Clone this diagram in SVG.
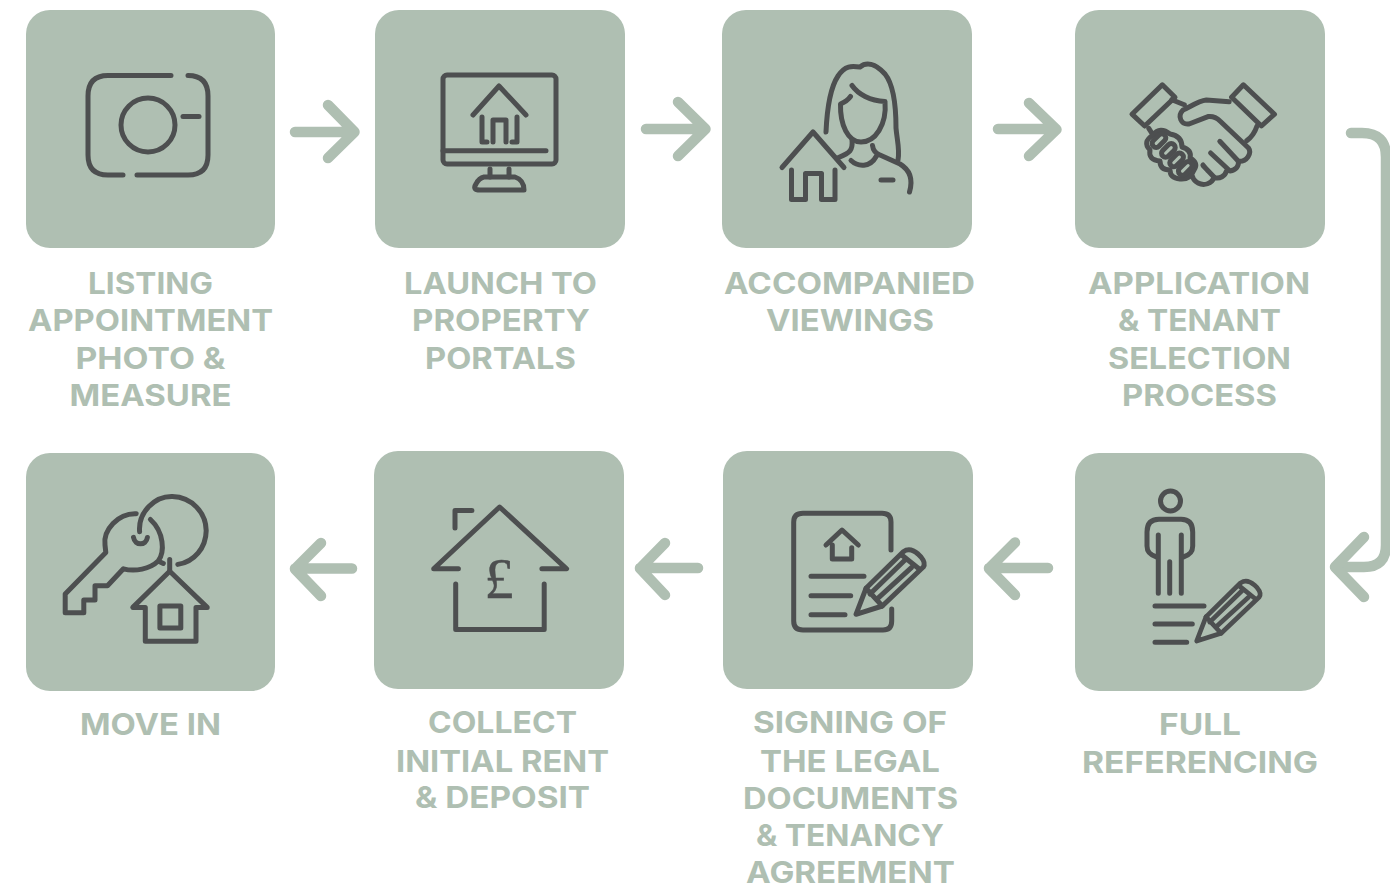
<svg xmlns="http://www.w3.org/2000/svg" xmlns:xlink="http://www.w3.org/1999/xlink" width="1390" height="888" viewBox="0 0 1390 888">
<style>
.box{fill:#afbfb2}
.ic{fill:none;stroke:#4d4f50;stroke-width:5;stroke-linecap:round;stroke-linejoin:round}
.arr{fill:none;stroke:#afbfb2;stroke-width:10.5;stroke-linecap:round;stroke-linejoin:round}
text{font-family:"Inter","Liberation Sans",sans-serif;font-weight:700;font-size:30px;fill:#afbfb2;text-anchor:middle}
.pound{font-family:"Liberation Serif",serif;font-weight:400;font-size:58px;fill:#4d4f50;stroke:#4d4f50;stroke-width:.5}
</style>
<defs>
<g id="pencil">
<path d="M856 614.3L866 588.3L903.3 551.7Q910 547 918 554L921 557Q926 563 923.3 567L882.3 606Z"/>
<path d="M866 588.3L882.3 606M901.7 555L918.3 568.3M870 594L905 560M876.7 599.3L911.7 567.3"/>
</g>
</defs>
<rect width="1390" height="888" fill="#fff"/>
<g id="connectors" class="arr">
<path d="M295 132H354M328 105L354.500 132L328 158"/>
<path d="M646 129H705M678 102L705.500 129L678 156"/>
<path d="M998 129H1056M1029 103L1056.500 129.500L1029 156"/>
<path d="M1351 133H1362Q1386 133 1386 157V545Q1386 567 1364 567H1336"/>
<path d="M1364 537L1335 567L1364 597"/>
<path d="M1048 568H989M1015 542.500L989 568.500L1015 595"/>
<path d="M698 568H640M665 543L640 568.500L665 595"/>
<path d="M352 568.500H295M321 543L295 569L321 596"/>
</g>
<g id="node-listing">
<rect class="box" x="26" y="10" width="249" height="238" rx="24"/>
<g class="ic">
<path d="M171 75.500H108Q88 75.500 88 96V155Q88 175 108 175H123M137 175H188Q208 175 208 155V96Q208 75.500 188 75.500"/>
<circle cx="148" cy="125" r="27"/>
<path d="M183 116.500H199"/>
</g>
<text x="150.500" y="294" textLength="125" lengthAdjust="spacingAndGlyphs">LISTING</text>
<text x="150.500" y="331" textLength="245" lengthAdjust="spacingAndGlyphs">APPOINTMENT</text>
<text x="150.500" y="369" textLength="150" lengthAdjust="spacingAndGlyphs">PHOTO &amp;</text>
<text x="150.500" y="406" textLength="162" lengthAdjust="spacingAndGlyphs">MEASURE</text>
</g>
<g id="node-portals">
<rect class="box" x="375" y="10" width="250" height="238" rx="24"/>
<g class="ic">
<rect x="443" y="75" width="113" height="89" rx="4"/>
<path d="M443 150.700H546M473 115L499 86L526 115M487 142H482V117M512 142H517V117M493 142V120H506V142M490 169V177M509 169V177"/>
<path d="M484 177H515Q524 180 524 190H480Q472 190 476 184Q479 178 484 177Z"/>
</g>
<text x="500.500" y="294" textLength="193" lengthAdjust="spacingAndGlyphs">LAUNCH TO</text>
<text x="501" y="331" textLength="178" lengthAdjust="spacingAndGlyphs">PROPERTY</text>
<text x="500.500" y="369" textLength="151" lengthAdjust="spacingAndGlyphs">PORTALS</text>
</g>
<g id="node-viewings">
<rect class="box" x="722" y="10" width="250" height="238" rx="24"/>
<g class="ic">
<path d="M826 132C827 110 830 88 838 76C845 65 852 66 860 67C866 62 875 63 885 74C893 84 896 105 896 128C897 140 900 150 898 160"/>
<path d="M852 85.500C858 94 870 101 885 101.500C887 125 875 142 861 142C848 142 840 125 840.500 104C845 102 848 100 850.500 96.500"/>
<path d="M852 140C853 150 850 153 838.500 157.500"/>
<path d="M851 160.500C858 167 870 168 876.500 156M872.500 145.500C873 150 875 153 880 155L900 164C910 170 913 180 909.500 192M881 180H893"/>
<path d="M782 167.500L813 132L844 167.500M791.500 170V199.500H805.500V173.500H821.500V199.500H835V170"/>
</g>
<text x="849.500" y="294" textLength="251" lengthAdjust="spacingAndGlyphs">ACCOMPANIED</text>
<text x="850" y="331" textLength="168" lengthAdjust="spacingAndGlyphs">VIEWINGS</text>
</g>
<g id="node-application">
<rect class="box" x="1075" y="10" width="250" height="238" rx="24"/>
<g class="ic">
<path d="M1162.300 84.800L1175 97.300L1144.700 126L1132 114.200Z"/>
<path d="M1243.400 84.800L1274.500 114.200L1261.400 126L1231.600 97.300Z"/>
<path d="M1171.800 99.700L1184.300 104.800M1229.200 101.700L1206.300 100C1198 101 1190 107 1183 110C1177 116 1181 125 1189 124L1208 116.600C1213 116 1217 118 1220 121L1248.500 148C1252 153 1247 162 1238.400 161.300L1219.800 141.300"/>
<path d="M1257 126C1255 132 1252 137 1246.800 140.600"/>
<path d="M1210.600 153L1230 171C1236 170 1239 166 1238.400 161.300M1203 165.600L1214.700 177.800C1220 179 1225 176 1226.500 171M1214 177C1212 184 1204 186 1198 183C1195 181 1193 179 1192.700 176.800M1203 165L1208 171"/>
<path d="M1148.800 128.400L1153 135"/>
<path d="M1153 135Q1160 126 1170 134Q1182 136 1182 147Q1192 150 1190 158Q1199 163 1194 170Q1190 180 1180 179Q1170 178 1170 170Q1160 170 1160 161Q1148 160 1150 150Q1142 142 1153 135Z"/>
<rect x="1151" y="136.600" width="16" height="8" rx="4" transform="rotate(-45 1159 140.600)"/>
<rect x="1160.400" y="146.400" width="16" height="8" rx="4" transform="rotate(-45 1168.400 150.400)"/>
<rect x="1168.600" y="155.900" width="16" height="8" rx="4" transform="rotate(-45 1176.600 159.900)"/>
<rect x="1177.300" y="164.300" width="16" height="8" rx="4" transform="rotate(-45 1185.300 168.300)"/>
</g>
<text x="1199" y="294" textLength="222" lengthAdjust="spacingAndGlyphs">APPLICATION</text>
<text x="1199.500" y="331" textLength="163" lengthAdjust="spacingAndGlyphs">&amp; TENANT</text>
<text x="1199.500" y="369" textLength="183" lengthAdjust="spacingAndGlyphs">SELECTION</text>
<text x="1199.500" y="406" textLength="155" lengthAdjust="spacingAndGlyphs">PROCESS</text>
</g>
<g id="node-referencing">
<rect class="box" x="1075" y="453" width="250" height="238" rx="24"/>
<g class="ic">
<circle cx="1170.500" cy="501" r="10"/>
<path d="M1156.700 557C1150 555 1147 552 1147 546V532Q1147 519.300 1159 519.300H1181Q1192.700 519.300 1192.700 532V546C1192.700 552 1190 555 1183.300 557"/>
<path d="M1158.300 535V593.300M1181.300 535V593.300M1169.700 561.700V593.300M1155 606H1204M1155 624H1192.300M1155 642.300H1186.700"/>
<use xlink:href="#pencil" href="#pencil" transform="translate(400.600 69.700) scale(.93)"/>
</g>
<text x="1200" y="735" textLength="82" lengthAdjust="spacingAndGlyphs">FULL</text>
<text x="1200" y="773" textLength="236" lengthAdjust="spacingAndGlyphs">REFERENCING</text>
</g>
<g id="node-signing">
<rect class="box" x="723" y="451" width="250" height="238" rx="24"/>
<g class="ic">
<path d="M891 550V522Q891 513.300 882 513.300H803Q793.700 513.300 793.700 522V621Q793.700 630 803 630H883Q891.700 630 891.700 621V609"/>
<path d="M826 545L842 530L858.300 545M832.300 545V559H851.700V547.700"/>
<path d="M811 576.300H864M811 595.700H850.700M811 614.700H845"/>
<use xlink:href="#pencil" href="#pencil"/>
</g>
<text x="850" y="733" textLength="194" lengthAdjust="spacingAndGlyphs">SIGNING OF</text>
<text x="850" y="772" textLength="180" lengthAdjust="spacingAndGlyphs">THE LEGAL</text>
<text x="850.500" y="809" textLength="215" lengthAdjust="spacingAndGlyphs">DOCUMENTS</text>
<text x="850" y="846" textLength="188" lengthAdjust="spacingAndGlyphs">&amp; TENANCY</text>
<text x="850.500" y="883" textLength="209" lengthAdjust="spacingAndGlyphs">AGREEMENT</text>
</g>
<g id="node-collect">
<rect class="box" x="374" y="451" width="250" height="238" rx="24"/>
<g class="ic">
<path d="M458.400 568.800H433.700L499.600 507L566.600 568.800H541.900M455.700 584V629.400H544.200V584M471.900 510.400H455V528"/>
</g>
<text class="pound" x="499" y="598">£</text>
<text x="502.500" y="733" textLength="149" lengthAdjust="spacingAndGlyphs">COLLECT</text>
<text x="502.500" y="772" textLength="213" lengthAdjust="spacingAndGlyphs">INITIAL RENT</text>
<text x="502.500" y="808" textLength="175" lengthAdjust="spacingAndGlyphs">&amp; DEPOSIT</text>
</g>
<g id="node-movein">
<rect class="box" x="26" y="453" width="249" height="238" rx="24"/>
<g class="ic">
<path d="M139.600 531.700C138 512 155 496 172.400 496.500C192 497 206 513 206.200 530.600C206 548 194 562 177.800 564.400"/>
<path d="M136.200 513.700C118 513 103 530 105 545L105.800 552.600L65.200 593.900V612.800H83.800V600H95V585.700H107.500L123.400 568.800C135 572 150 569 158.200 561C165 552 164 532 150.400 519.500M158.200 561L163.300 563.400"/>
<path d="M133.500 537.400C135 546 146 546 147.400 537.400M169.700 559.400V571.200"/>
<path d="M169.700 571.200L132.800 607.400H145.300V641.200H196V607.400H207.200Z"/>
<rect x="159.900" y="606" width="20.900" height="22"/>
</g>
<text x="150.500" y="735" textLength="141" lengthAdjust="spacingAndGlyphs">MOVE IN</text>
</g>
</svg>
